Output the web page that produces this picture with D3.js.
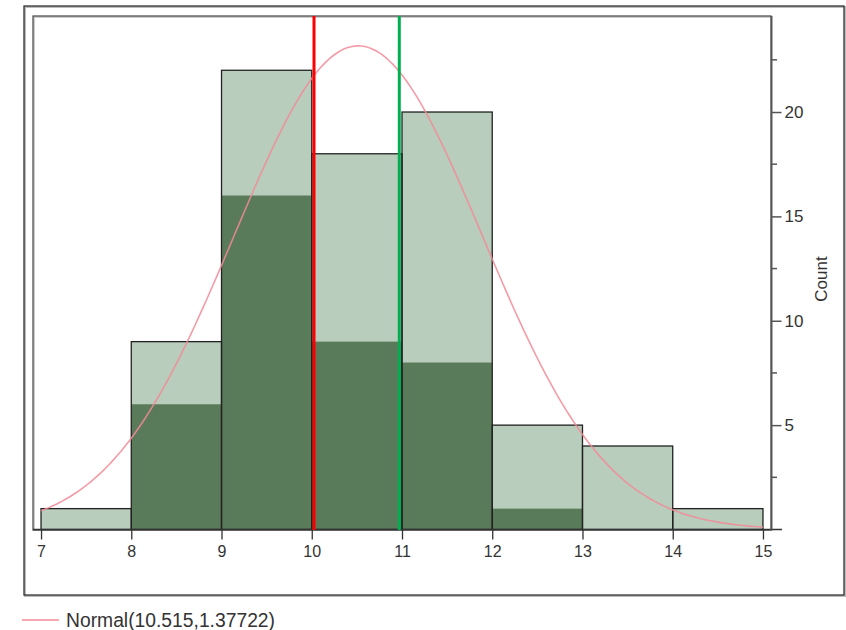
<!DOCTYPE html>
<html><head><meta charset="utf-8">
<script src="https://cdn.jsdelivr.net/npm/d3@7"></script>
<style>body{margin:0;background:#fff}svg{display:block}text{font-family:"Liberation Sans",Arial,sans-serif}</style>
</head><body><svg id="c" width="846" height="630"></svg>
<script>
const binStarts = [7, 8, 9, 10, 11, 12, 13, 14];
const totalCounts = [1, 9, 22, 18, 20, 5, 4, 1];
const darkCounts = [0, 6, 16, 9, 8, 1, 0, 0];
const xTicks = [7, 8, 9, 10, 11, 12, 13, 14, 15];
const yTicks = [5, 10, 15, 20];
const yMinorTicks = [2.5, 7.5, 12.5, 17.5, 22.5];
const refLines = [{v: 10.025, color: "#ff0000"}, {v: 10.97, color: "#00b050"}];
const normMean = 10.515, normSd = 1.37722;
const legendLabel = "Normal(10.515,1.37722)";

const svg = d3.select("#c");
const x = d3.scaleLinear().domain([6.911, 15.089]).range([33, 771]);
const y = d3.scaleLinear().domain([0, 24.6]).range([529.5, 16]);
const N = d3.sum(totalCounts);

// outer frame with shadow
svg.append("rect").attr("x", 25).attr("y", 7).attr("width", 820).attr("height", 589)
  .attr("fill", "none").attr("stroke", "#bbb").attr("stroke-width", 2);
svg.append("rect").attr("x", 24).attr("y", 6).attr("width", 820).attr("height", 589)
  .attr("fill", "none").attr("stroke", "#333").attr("stroke-width", 1.3);
// inner frame
svg.append("rect").attr("x", 34).attr("y", 17).attr("width", 738).attr("height", 513)
  .attr("fill", "none").attr("stroke", "#ccc").attr("stroke-width", 2);
svg.append("rect").attr("x", 33).attr("y", 16).attr("width", 738).attr("height", 514)
  .attr("fill", "none").attr("stroke", "#555").attr("stroke-width", 1.3);

const bins = binStarts.map((s, i) => ({s, t: totalCounts[i], d: darkCounts[i]}));
const g = svg.append("g");
g.selectAll("rect.light").data(bins).join("rect").attr("class", "light")
  .attr("x", d => x(d.s)).attr("width", d => x(d.s + 1) - x(d.s))
  .attr("y", d => y(d.t)).attr("height", d => y(0) - y(d.t))
  .attr("fill", "#b9cdbc");
g.selectAll("rect.dark").data(bins.filter(d => d.d > 0)).join("rect").attr("class", "dark")
  .attr("x", d => x(d.s)).attr("width", d => x(d.s + 1) - x(d.s))
  .attr("y", d => y(d.d)).attr("height", d => y(0) - y(d.d))
  .attr("fill", "#5a7b5a");
g.selectAll("rect.outl").data(bins).join("rect").attr("class", "outl")
  .attr("x", d => x(d.s)).attr("width", d => x(d.s + 1) - x(d.s))
  .attr("y", d => y(d.t)).attr("height", d => y(0) - y(d.t))
  .attr("fill", "none").attr("stroke", "#222").attr("stroke-width", 1.3);

// x axis baseline and ticks
svg.append("line").attr("x1", 33).attr("x2", 782).attr("y1", y(0)).attr("y2", y(0))
  .attr("stroke", "#333").attr("stroke-width", 1.5);
const xa = svg.append("g").attr("transform", `translate(0,${y(0)})`)
  .call(d3.axisBottom(x).tickValues(xTicks).tickFormat(d3.format("d")).tickSize(10).tickPadding(6));
xa.attr("font-size", null).attr("font-family", null);
xa.select(".domain").remove();
xa.selectAll("line").attr("stroke", "#333").attr("stroke-width", 1.3);
xa.selectAll("text").style("font-size", "16px").attr("fill", "#333");

// right y axis
const ya = svg.append("g").attr("transform", `translate(771.5,0)`)
  .call(d3.axisRight(y).tickValues(yTicks).tickSize(10).tickPadding(3));
ya.attr("font-size", null).attr("font-family", null);
ya.select(".domain").remove();
ya.selectAll("line").attr("stroke", "#555").attr("stroke-width", 1.5);
ya.selectAll("text").style("font-size", "17px").attr("fill", "#333");
svg.append("g").selectAll("line").data(yMinorTicks).join("line")
  .attr("x1", 771.5).attr("x2", 777).attr("y1", d => y(d)).attr("y2", d => y(d))
  .attr("stroke", "#555").attr("stroke-width", 1.5);
svg.append("line").attr("x1", 771.5).attr("x2", 771.5).attr("y1", 16).attr("y2", 530)
  .attr("stroke", "#555").attr("stroke-width", 1.5);
svg.append("text").attr("transform", "translate(827,279) rotate(-90)")
  .attr("text-anchor", "middle").style("font-size", "17px").attr("fill", "#333").text("Count");

// normal curve
const pdf = v => Math.exp(-((v - normMean) ** 2) / (2 * normSd * normSd)) / (normSd * Math.sqrt(2 * Math.PI));
const xs = d3.range(7, 15.0001, 0.05);
svg.append("path").datum(xs)
  .attr("d", d3.line().x(v => x(v)).y(v => y(N * pdf(v))).curve(d3.curveBasis))
  .attr("fill", "none").attr("stroke", "#f28a98").attr("stroke-opacity", 0.85).attr("stroke-width", 1.6);

// reference lines
svg.selectAll("line.ref").data(refLines).join("line").attr("class", "ref")
  .attr("x1", d => x(d.v)).attr("x2", d => x(d.v)).attr("y1", 16).attr("y2", 530)
  .attr("stroke", d => d.color).attr("stroke-width", 3);

// legend
svg.append("line").attr("x1", 22).attr("x2", 59).attr("y1", 620).attr("y2", 620)
  .attr("stroke", "#f28a98").attr("stroke-width", 1.6);
svg.append("text").attr("x", 66).attr("y", 627).style("font-size", "19.3px").attr("fill", "#333").text(legendLabel);
</script></body></html>
